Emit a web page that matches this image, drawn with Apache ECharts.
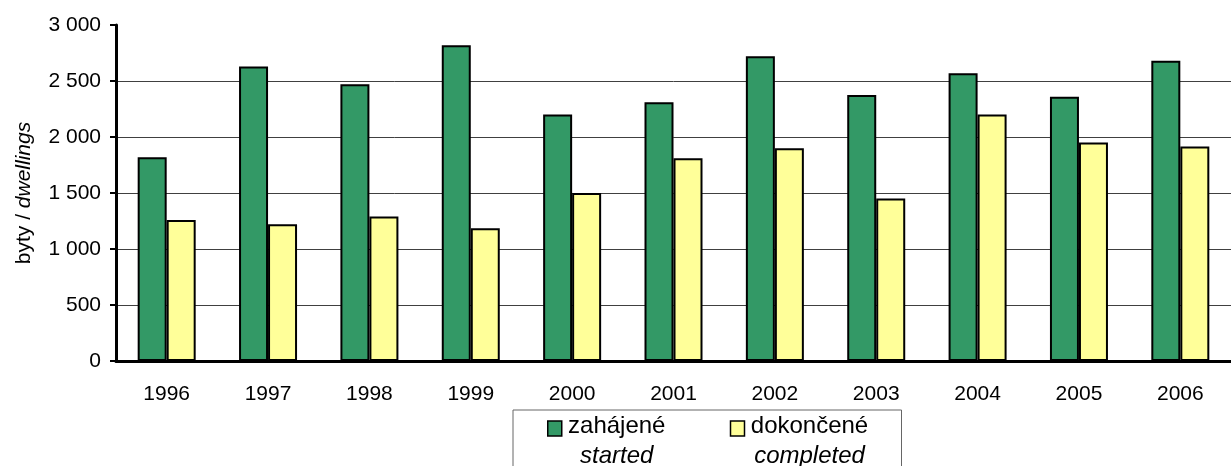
<!DOCTYPE html>
<html>
<head>
<meta charset="utf-8">
<script src="https://cdn.jsdelivr.net/npm/echarts@6/dist/echarts.min.js"></script>
<style>
  html, body { margin: 0; padding: 0; background: #fff; }
  #chart { width: 1231px; height: 466px; }
</style>
</head>
<body>
<div id="chart"></div>
<script>
const years = ['1996', '1997', '1998', '1999', '2000', '2001', '2002', '2003', '2004', '2005', '2006'];
const started = [1820, 2630, 2470, 2820, 2200, 2310, 2720, 2375, 2570, 2360, 2680];
const completed = [1260, 1220, 1290, 1185, 1500, 1810, 1900, 1450, 2200, 1950, 1915];

const fmt = v => v >= 1000 ? Math.floor(v / 1000) + ' ' + String(v % 1000).padStart(3, '0') : String(v);

// square in the upper part of a taller box so it sits next to the first text line
const legendIcon = 'path://M0,0 M0,2 L14,2 L14,17 L0,17 Z M0,44';

const chart = echarts.init(document.getElementById('chart'));

chart.setOption({
  animation: false,
  textStyle: { fontFamily: 'Liberation Sans, Arial, sans-serif' },
  grid: { left: 116, top: 25, width: 1124, height: 336 },
  legend: {
    left: 513,
    top: 410,
    padding: [4, 32, 40, 34],
    itemGap: 63,
    itemWidth: 14,
    itemHeight: 44,
    icon: legendIcon,
    backgroundColor: '#fff',
    borderColor: '#666',
    borderWidth: 1,
    itemStyle: { borderWidth: 1.5, borderColor: '#000' },
    textStyle: {
      color: '#000',
      fontSize: 24,
      rich: {
        a: { width: 100, align: 'center', fontSize: 24, lineHeight: 30, color: '#000' },
        b: { width: 120, align: 'center', fontSize: 24, lineHeight: 30, color: '#000' },
        ai: { width: 100, align: 'center', fontSize: 24, lineHeight: 30, fontStyle: 'italic', color: '#000' },
        bi: { width: 120, align: 'center', fontSize: 24, lineHeight: 30, fontStyle: 'italic', color: '#000' }
      }
    },
    formatter: name => name === 'zahájené'
      ? '{a|zahájené}\n{ai|started}'
      : '{b|dokončené}\n{bi|completed}'
  },
  xAxis: {
    type: 'category',
    data: years,
    axisLine: { lineStyle: { color: '#000', width: 3 } },
    axisTick: { length: 6, lineStyle: { color: '#000', width: 2 } },
    axisLabel: { color: '#000', fontSize: 21, margin: 23 }
  },
  yAxis: {
    type: 'value',
    min: 0,
    max: 3000,
    interval: 500,
    name: '{n|byty / }{i|dwellings}',
    nameLocation: 'middle',
    nameRotate: 90,
    nameGap: 81,
    nameTextStyle: {
      rich: {
        n: { fontSize: 21, color: '#000' },
        i: { fontSize: 21, color: '#000', fontStyle: 'italic' }
      }
    },
    axisLine: { show: true, lineStyle: { color: '#000', width: 3 } },
    axisTick: { show: true, length: 6, lineStyle: { color: '#000', width: 2 } },
    axisLabel: { color: '#000', fontSize: 21, margin: 15, formatter: fmt },
    splitLine: { show: true, showMaxLine: false, lineStyle: { color: '#404040', width: 1 } }
  },
  series: [
    {
      name: 'zahájené',
      type: 'bar',
      data: started,
      barWidth: 29,
      barGap: '0%',
      itemStyle: { color: '#339966', borderColor: '#000', borderWidth: 2 }
    },
    {
      name: 'dokončené',
      type: 'bar',
      data: completed,
      barWidth: 29,
      itemStyle: { color: '#ffff99', borderColor: '#000', borderWidth: 2 }
    }
  ]
});
</script>
</body>
</html>
